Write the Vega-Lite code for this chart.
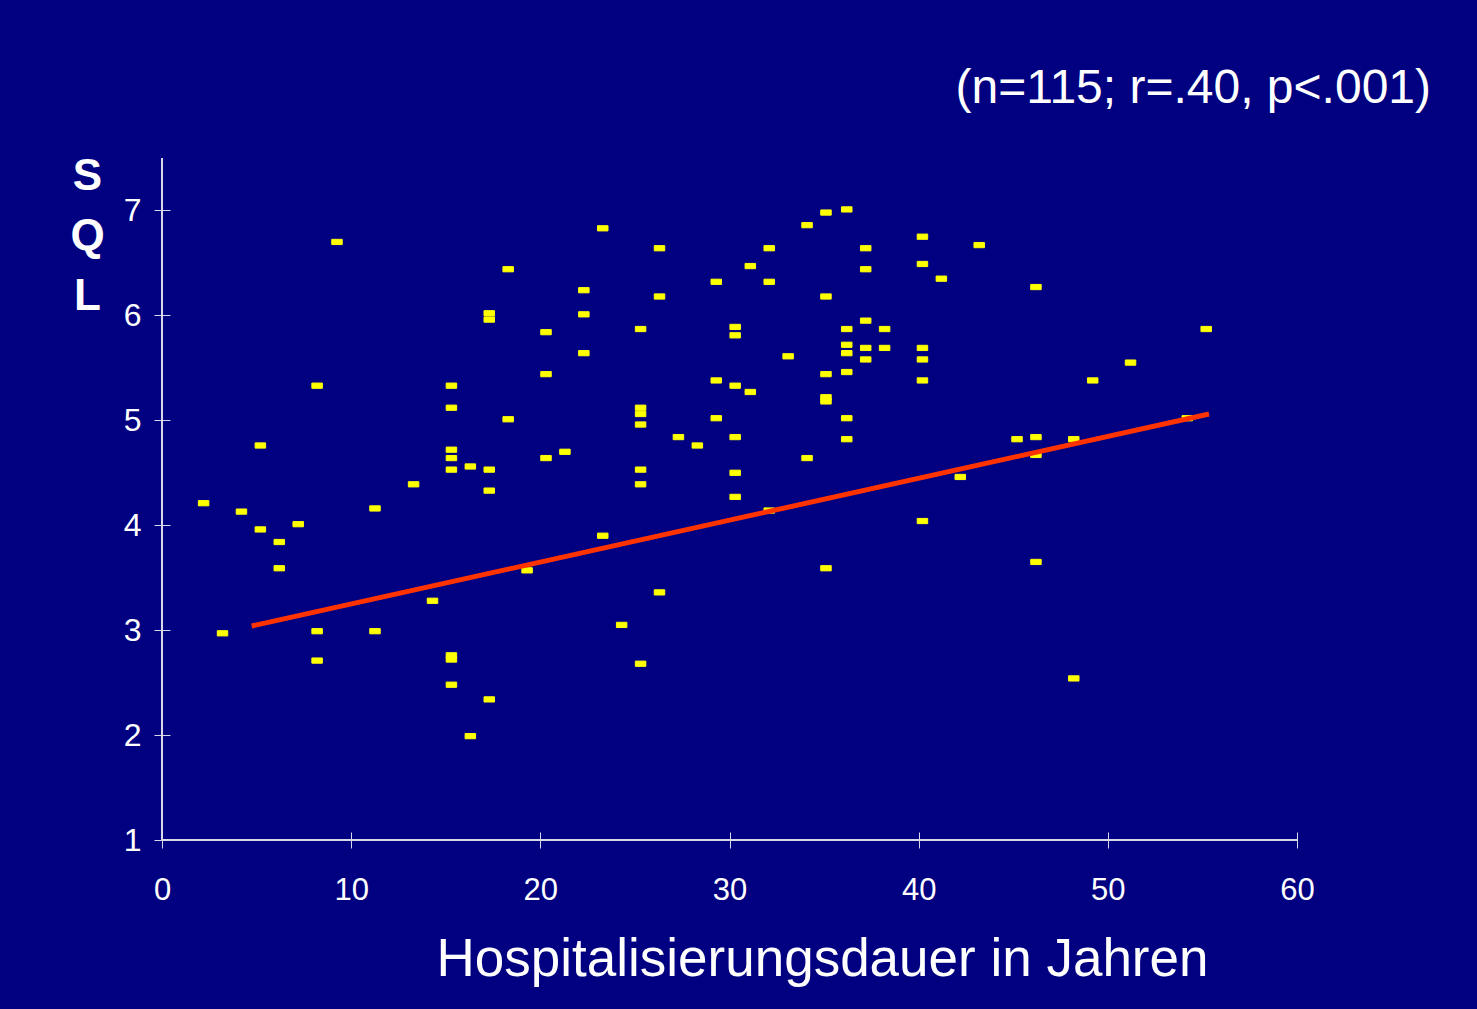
{
  "$schema": "https://vega.github.io/schema/vega-lite/v6.json",
  "width": 1135,
  "height": 682,
  "autosize": {"type": "none"},
  "padding": {"left": 162, "top": 158, "right": 180, "bottom": 169},
  "background": "#000080",
  "title": {
    "text": "(n=115; r=.40, p<.001)",
    "anchor": "end",
    "frame": "group",
    "font": "Liberation Sans",
    "fontSize": 48,
    "fontWeight": "normal",
    "color": "white",
    "baseline": "alphabetic",
    "dx": 134,
    "offset": 3
  },
  "config": {
    "view": {"stroke": null},
    "font": "Liberation Sans"
  },
  "data": {
    "values": [
      {"dauer": 2.2, "sql": 4.21}, {"dauer": 3.2, "sql": 2.97}, {"dauer": 4.2, "sql": 4.13}, {"dauer": 5.2, "sql": 4.76},
      {"dauer": 5.2, "sql": 3.96}, {"dauer": 6.2, "sql": 3.84}, {"dauer": 6.2, "sql": 3.59}, {"dauer": 7.2, "sql": 4.01},
      {"dauer": 8.2, "sql": 5.33}, {"dauer": 8.2, "sql": 2.99}, {"dauer": 8.2, "sql": 2.71}, {"dauer": 9.25, "sql": 6.70},
      {"dauer": 11.26, "sql": 4.16}, {"dauer": 11.26, "sql": 2.99}, {"dauer": 13.3, "sql": 4.39}, {"dauer": 14.3, "sql": 3.28},
      {"dauer": 15.3, "sql": 5.33}, {"dauer": 15.3, "sql": 5.12}, {"dauer": 15.3, "sql": 4.72}, {"dauer": 15.3, "sql": 4.64},
      {"dauer": 15.3, "sql": 4.53}, {"dauer": 15.3, "sql": 2.76}, {"dauer": 15.3, "sql": 2.72}, {"dauer": 15.3, "sql": 2.48},
      {"dauer": 16.3, "sql": 4.56}, {"dauer": 16.3, "sql": 1.99}, {"dauer": 17.3, "sql": 6.02}, {"dauer": 17.3, "sql": 5.96},
      {"dauer": 17.3, "sql": 4.53}, {"dauer": 17.3, "sql": 4.33}, {"dauer": 17.3, "sql": 2.34}, {"dauer": 18.3, "sql": 6.44},
      {"dauer": 18.3, "sql": 5.01}, {"dauer": 19.3, "sql": 3.57}, {"dauer": 20.3, "sql": 5.84}, {"dauer": 20.3, "sql": 5.44},
      {"dauer": 20.3, "sql": 4.64}, {"dauer": 21.3, "sql": 4.70}, {"dauer": 22.3, "sql": 6.24}, {"dauer": 22.3, "sql": 6.01},
      {"dauer": 22.3, "sql": 5.64}, {"dauer": 23.3, "sql": 6.83}, {"dauer": 23.3, "sql": 3.90}, {"dauer": 24.3, "sql": 3.05},
      {"dauer": 25.3, "sql": 5.87}, {"dauer": 25.3, "sql": 5.12}, {"dauer": 25.3, "sql": 5.06}, {"dauer": 25.3, "sql": 4.96},
      {"dauer": 25.3, "sql": 4.53}, {"dauer": 25.3, "sql": 4.39}, {"dauer": 25.3, "sql": 2.68}, {"dauer": 26.3, "sql": 6.64},
      {"dauer": 26.3, "sql": 6.18}, {"dauer": 26.3, "sql": 3.36}, {"dauer": 27.3, "sql": 4.84}, {"dauer": 28.3, "sql": 4.76},
      {"dauer": 29.3, "sql": 6.32}, {"dauer": 29.3, "sql": 5.38}, {"dauer": 29.3, "sql": 5.02}, {"dauer": 30.3, "sql": 5.89},
      {"dauer": 30.3, "sql": 5.81}, {"dauer": 30.3, "sql": 5.33}, {"dauer": 30.3, "sql": 4.84}, {"dauer": 30.3, "sql": 4.50},
      {"dauer": 30.3, "sql": 4.27}, {"dauer": 31.1, "sql": 6.47}, {"dauer": 31.1, "sql": 5.27}, {"dauer": 32.1, "sql": 6.64},
      {"dauer": 32.1, "sql": 6.32}, {"dauer": 32.1, "sql": 4.14}, {"dauer": 33.1, "sql": 5.61}, {"dauer": 34.1, "sql": 6.86},
      {"dauer": 34.1, "sql": 4.64}, {"dauer": 35.1, "sql": 6.98}, {"dauer": 35.1, "sql": 6.18}, {"dauer": 35.1, "sql": 5.44},
      {"dauer": 35.1, "sql": 5.22}, {"dauer": 35.1, "sql": 5.18}, {"dauer": 35.1, "sql": 3.59}, {"dauer": 36.2, "sql": 7.01},
      {"dauer": 36.2, "sql": 5.87}, {"dauer": 36.2, "sql": 5.72}, {"dauer": 36.2, "sql": 5.64}, {"dauer": 36.2, "sql": 5.46},
      {"dauer": 36.2, "sql": 5.02}, {"dauer": 36.2, "sql": 4.82}, {"dauer": 37.2, "sql": 6.64}, {"dauer": 37.2, "sql": 6.44},
      {"dauer": 37.2, "sql": 5.95}, {"dauer": 37.2, "sql": 5.69}, {"dauer": 37.2, "sql": 5.58}, {"dauer": 38.2, "sql": 5.87},
      {"dauer": 38.2, "sql": 5.69}, {"dauer": 40.2, "sql": 6.75}, {"dauer": 40.2, "sql": 6.49}, {"dauer": 40.2, "sql": 5.69},
      {"dauer": 40.2, "sql": 5.58}, {"dauer": 40.2, "sql": 5.38}, {"dauer": 40.2, "sql": 4.04}, {"dauer": 41.2, "sql": 6.35},
      {"dauer": 42.2, "sql": 4.46}, {"dauer": 43.2, "sql": 6.67}, {"dauer": 45.2, "sql": 4.82}, {"dauer": 46.2, "sql": 6.27},
      {"dauer": 46.2, "sql": 4.84}, {"dauer": 46.2, "sql": 4.67}, {"dauer": 46.2, "sql": 3.65}, {"dauer": 48.2, "sql": 4.82},
      {"dauer": 48.2, "sql": 2.54}, {"dauer": 49.2, "sql": 5.38}, {"dauer": 51.2, "sql": 5.55}, {"dauer": 54.2, "sql": 5.02},
      {"dauer": 55.2, "sql": 5.87}
    ]
  },
  "encoding": {
    "x": {
      "field": "dauer",
      "type": "quantitative",
      "scale": {"domain": [0, 60], "nice": false, "zero": false},
      "axis": {
        "values": [0, 10, 20, 30, 40, 50, 60],
        "domain": false,
        "grid": false,
        "offset": -8,
        "tickSize": 16,
        "tickColor": "#d8d8e8",
        "tickWidth": 1,
        "labelFont": "Liberation Sans",
        "labelFontSize": 31,
        "labelColor": "white",
        "labelPadding": 27,
        "labelFlush": false,
        "labelOverlap": false,
        "title": "Hospitalisierungsdauer in Jahren",
        "titleFont": "Liberation Sans",
        "titleFontSize": 53,
        "titleFontWeight": "normal",
        "titleColor": "white",
        "titleAlign": "center",
        "titleBaseline": "alphabetic",
        "titleX": 660,
        "titleY": 143
      }
    },
    "y": {
      "field": "sql",
      "type": "quantitative",
      "scale": {"domain": [1, 7.5], "nice": false, "zero": false},
      "axis": {
        "values": [1, 2, 3, 4, 5, 6, 7],
        "domain": false,
        "grid": false,
        "offset": -8,
        "tickSize": 16,
        "tickColor": "#d8d8e8",
        "tickWidth": 1,
        "labelFont": "Liberation Sans",
        "labelFontSize": 32,
        "labelColor": "white",
        "labelPadding": 13,
        "labelBaseline": "middle",
        "labelOverlap": false,
        "title": ["S", "Q", "L"],
        "titleFont": "Liberation Sans",
        "titleFontSize": 44,
        "titleFontWeight": "bold",
        "titleColor": "white",
        "titleAngle": 0,
        "titleAlign": "center",
        "titleBaseline": "top",
        "titleLineHeight": 60,
        "titleX": -83,
        "titleY": -4
      }
    }
  },
  "layer": [
    {
      "mark": {"type": "rule", "color": "#d8d8e8", "strokeWidth": 1},
      "encoding": {
        "x": {"datum": 0},
        "y": {"datum": 1},
        "y2": {"datum": 7.5}
      }
    },
    {
      "mark": {"type": "rule", "color": "#d8d8e8", "strokeWidth": 1},
      "encoding": {
        "y": {"datum": 1},
        "x": {"datum": 0},
        "x2": {"datum": 60}
      }
    },
    {
      "mark": {
        "type": "point",
        "shape": "M-1,-0.5L1,-0.5L1,0.5L-1,0.5Z",
        "size": 110,
        "filled": true,
        "color": "#FFFF00",
        "stroke": "#FFFF00",
        "strokeWidth": 1,
        "strokeJoin": "round",
        "opacity": 1
      }
    },
    {
      "data": {
        "values": [
          {"dauer": 4.74, "sql": 3.04},
          {"dauer": 55.35, "sql": 5.06}
        ]
      },
      "mark": {"type": "line", "color": "#FF3300", "strokeWidth": 5},
      "encoding": {
        "x": {"field": "dauer", "type": "quantitative"},
        "y": {"field": "sql", "type": "quantitative"}
      }
    }
  ]
}
